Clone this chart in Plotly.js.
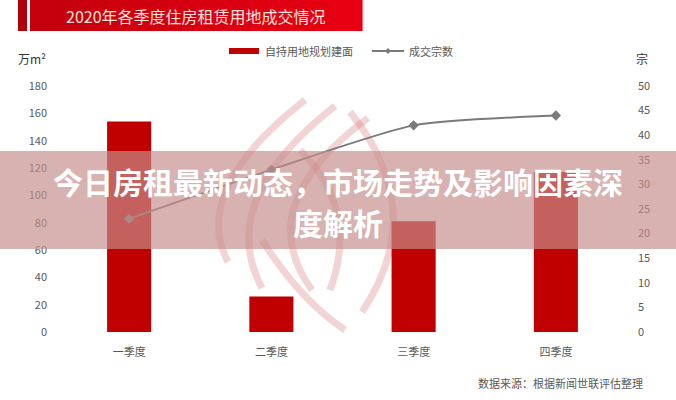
<!DOCTYPE html>
<html>
<head>
<meta charset="utf-8">
<script src="https://cdn.plot.ly/plotly-3.0.1.min.js"></script>
<style>
html,body{margin:0;padding:0;background:#fff;}
#chart{width:676px;height:400px;}
</style>
</head>
<body>
<div id="chart"></div>
<script>
// ---- data ----
const categories = ['一季度', '二季度', '三季度', '四季度'];
const areaValues = [154, 26, 81, 117];      // 自持用地规划建面 (万m²)
const dealCounts = [23, 33, 42, 44];        // 成交宗数 (宗)
const leftTicks = [0, 20, 40, 60, 80, 100, 120, 140, 160, 180];
const rightTicks = [0, 5, 10, 15, 20, 25, 30, 35, 40, 45, 50];
const barName = '自持用地规划建面';
const lineName = '成交宗数';
const chartTitle = '2020年各季度住房租赁用地成交情况';
const overlayLine1 = '今日房租最新动态，市场走势及影响因素深';
const overlayLine2 = '度解析';
const sourceText = '数据来源：根据新闻世联评估整理';

// ---- layout helpers (pixel -> paper) ----
const W = 676, H = 400;
const M = {l: 58, r: 49, t: 86, b: 68};
const PW = W - M.l - M.r, PH = H - M.t - M.b;
const px = x => (x - M.l) / PW;
const py = y => (H - M.b - y) / PH;
const FONT = '"Noto Sans CJK SC", "Noto Sans", sans-serif';

const shapes = [];
// header banner
shapes.push({type:'rect', xref:'paper', yref:'paper', x0:px(18), x1:px(27), y0:py(31), y1:py(0),
  fillcolor:'#b0000e', line:{width:0}, layer:'above'});
const n = 12;
for (let i = 0; i < n; i++) {
  const t = i / (n - 1);
  const r = Math.round(196 + (232 - 196) * t);
  const b = Math.round(12 + (18 - 12) * t);
  const xa = 30 + (362 - 30) * i / n, xb = 30 + (362 - 30) * (i + 1) / n + 0.6;
  shapes.push({type:'rect', xref:'paper', yref:'paper', x0:px(xa), x1:px(xb), y0:py(31), y1:py(0),
    fillcolor:`rgb(${r},0,${b})`, line:{width:0}, layer:'above'});
}
// faint watermark arcs
function qpath(p0, c, p1) {
  return `M ${px(p0[0])},${py(p0[1])} Q ${px(c[0])},${py(c[1])} ${px(p1[0])},${py(p1[1])}`;
}
const arcs = [
  [[305,100],[190,190],[228,262]],
  [[335,106],[215,200],[262,288]],
  [[368,118],[250,205],[312,290]],
  [[350,112],[430,210],[362,312]],
  [[300,150],[360,210],[330,290]],
  [[262,240],[300,300],[345,330]]
];
arcs.forEach(a => shapes.push({type:'path', xref:'paper', yref:'paper', path:qpath(a[0],a[1],a[2]),
  line:{color:'rgba(215,120,120,0.32)', width:7}, layer:'below'}));
// legend swatches
shapes.push({type:'rect', xref:'paper', yref:'paper', x0:px(229), x1:px(259), y0:py(54), y1:py(48),
  fillcolor:'#c00000', line:{width:0}});
shapes.push({type:'line', xref:'paper', yref:'paper', x0:px(372), x1:px(404), y0:py(51), y1:py(51),
  line:{color:'#7a7a7a', width:2}});
shapes.push({type:'path', xref:'paper', yref:'paper',
  path:`M ${px(388)},${py(48)} L ${px(391)},${py(51)} L ${px(388)},${py(54)} L ${px(385)},${py(51)} Z`,
  fillcolor:'#7a7a7a', line:{width:0}});
// overlay band
shapes.push({type:'rect', xref:'paper', yref:'paper', x0:px(0), x1:px(676), y0:py(249), y1:py(151),
  fillcolor:'rgba(198,141,138,0.68)', line:{width:0}, layer:'above'});

const annotations = [
  {text: chartTitle, xref:'paper', yref:'paper', x:px(196), y:py(16), showarrow:false,
   font:{family:FONT, size:16, color:'#ffe2de'}, xanchor:'center', yanchor:'middle'},
  {text: barName, xref:'paper', yref:'paper', x:px(263), y:py(51), showarrow:false,
   font:{family:FONT, size:11, color:'#595959'}, xanchor:'left', yanchor:'middle'},
  {text: lineName, xref:'paper', yref:'paper', x:px(407), y:py(51), showarrow:false,
   font:{family:FONT, size:11, color:'#595959'}, xanchor:'left', yanchor:'middle'},
  {text: '万m²', xref:'paper', yref:'paper', x:px(32), y:py(58), showarrow:false,
   font:{family:FONT, size:12, color:'#333'}, xanchor:'center', yanchor:'middle'},
  {text: '宗', xref:'paper', yref:'paper', x:px(642), y:py(58), showarrow:false,
   font:{family:FONT, size:12, color:'#333'}, xanchor:'center', yanchor:'middle'},
  {text: sourceText, xref:'paper', yref:'paper', x:px(645), y:py(383), showarrow:false,
   font:{family:FONT, size:11, color:'#595959'}, xanchor:'right', yanchor:'middle'},
  {text: '<b>' + overlayLine1 + '</b>', xref:'paper', yref:'paper', x:px(338), y:py(181), showarrow:false,
   font:{family:FONT, size:30, color:'#ffffff'}, xanchor:'center', yanchor:'middle'},
  {text: '<b>' + overlayLine2 + '</b>', xref:'paper', yref:'paper', x:px(338), y:py(222), showarrow:false,
   font:{family:FONT, size:30, color:'#ffffff'}, xanchor:'center', yanchor:'middle'}
];

const traces = [
  {type:'bar', x:categories, y:areaValues, name:barName, marker:{color:'#c00000'}, yaxis:'y',
   hoverinfo:'skip'},
  {type:'scatter', mode:'lines+markers', x:categories, y:dealCounts, name:lineName, yaxis:'y2',
   line:{color:'#7a7a7a', width:2, shape:'spline', smoothing:0.6},
   marker:{symbol:'diamond', size:8, color:'#7a7a7a'}, hoverinfo:'skip'}
];

const layout = {
  width: W, height: H,
  margin: M,
  paper_bgcolor:'#ffffff', plot_bgcolor:'rgba(0,0,0,0)',
  showlegend:false,
  bargap:0.69,
  font:{family:FONT, size:11, color:'#595959'},
  xaxis:{type:'category', showline:false, showgrid:false, zeroline:false, ticks:'',
    tickfont:{family:FONT, size:11, color:'#595959'}, ticklabelstandoff:12},
  yaxis:{range:[0,180], tickvals:leftTicks, showgrid:false, zeroline:false, showline:false, ticks:'',
    tickfont:{family:FONT, size:11, color:'#595959'}, ticklabelstandoff:10},
  yaxis2:{range:[0,50], tickvals:rightTicks, overlaying:'y', side:'right', showgrid:false,
    zeroline:false, showline:false, ticks:'', tickfont:{family:FONT, size:11, color:'#595959'},
    ticklabelstandoff:10},
  shapes: shapes,
  annotations: annotations
};

Plotly.newPlot('chart', traces, layout, {displayModeBar:false, staticPlot:true});
</script>
</body>
</html>
